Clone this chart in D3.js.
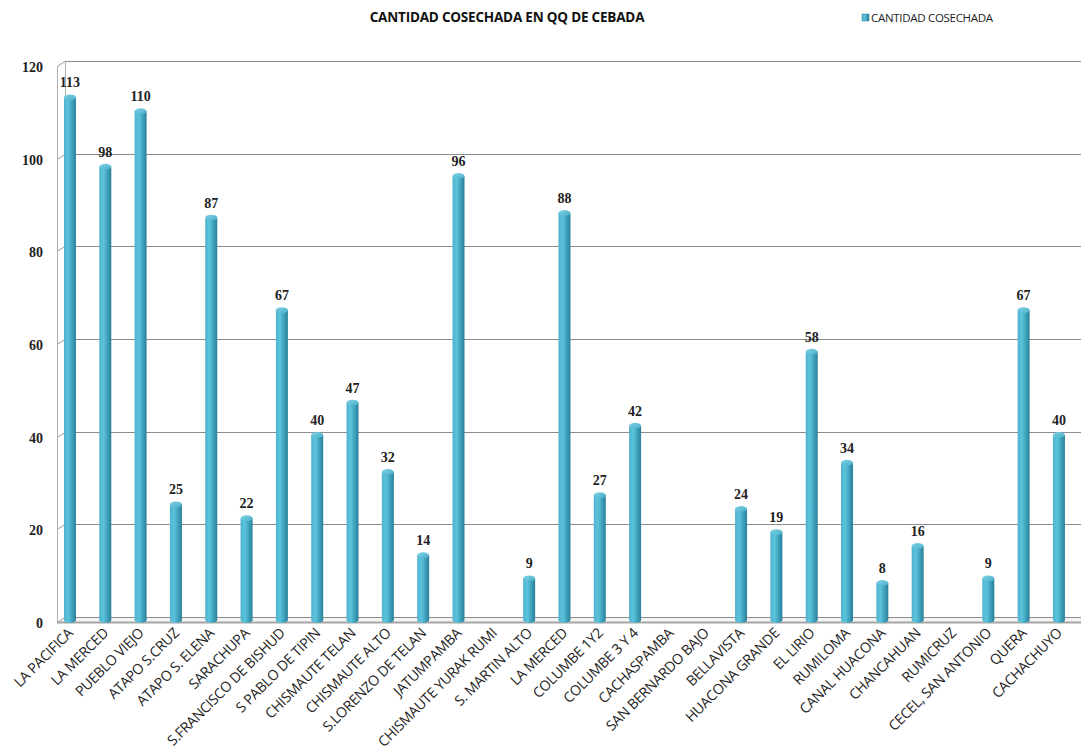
<!DOCTYPE html>
<html><head><meta charset="utf-8">
<script src="https://cdn.jsdelivr.net/npm/d3@7"></script>
<style>body{margin:0;background:#fff}</style>
</head><body><svg id="c" width="1081" height="752"></svg>
<script>
const categories = ["LA PACIFICA","LA MERCED","PUEBLO VIEJO","ATAPO S.CRUZ","ATAPO S. ELENA","SARACHUPA","S.FRANCISCO DE BISHUD","S PABLO DE TIPIN","CHISMAUTE TELAN","CHISMAUTE ALTO","S.LORENZO DE TELAN","JATUMPAMBA","CHISMAUTE YURAK RUMI","S. MARTIN ALTO","LA MERCED ","COLUMBE 1Y2","COLUMBE 3 Y 4","CACHASPAMBA","SAN BERNARDO BAJO","BELLAVISTA","HUACONA GRANDE","EL LIRIO","RUMILOMA","CANAL HUACONA","CHANCAHUAN","RUMICRUZ","CECEL, SAN ANTONIO","QUERA","CACHACHUYO"];
const values = [113,98,110,25,87,22,67,40,47,32,14,96,0,9,88,27,42,0,0,24,19,58,34,8,16,0,9,67,40];
const yTicks = [0,20,40,60,80,100,120];
const title = "CANTIDAD COSECHADA EN QQ DE CEBADA";
const seriesName = "CANTIDAD COSECHADA";

const svg = d3.select("#c");
const W = 1081;
const dx = 8, dy = 5; // depth offset
const backLeft = 65, frontLeft = backLeft - dx;
const y = d3.scaleLinear().domain([0,120]).range([617,61]);
const yBar = d3.scaleLinear().domain([0,120]).range([620,65]);
const x = d3.scaleBand().domain(d3.range(categories.length)).range([52.3,1076.6]).paddingInner(0.66).paddingOuter(0.33);

const defs = svg.append("defs");
const g1 = defs.append("linearGradient").attr("id","cyl").attr("x1","0").attr("x2","1").attr("y1","0").attr("y2","0");
[["0%","#4fb3cc"],["35%","#5cc3dc"],["60%","#46aac4"],["100%","#2a7f98"]].forEach(s=>g1.append("stop").attr("offset",s[0]).attr("stop-color",s[1]));
const g2 = defs.append("linearGradient").attr("id","topc").attr("x1","0").attr("x2","1").attr("y1","0").attr("y2","1");
[["0%","#7fd3e6"],["100%","#4aaec8"]].forEach(s=>g2.append("stop").attr("offset",s[0]).attr("stop-color",s[1]));

// floor
svg.append("path").attr("d",`M${frontLeft},${y(0)+dy} L${backLeft},${y(0)} L${W},${y(0)} L${W},${y(0)+dy} Z`)
  .attr("fill","#f4f4f4").attr("stroke","none");
// grid lines
yTicks.forEach(t=>{
  const yy = Math.round(y(t))+0.5;
  svg.append("line").attr("x1",backLeft).attr("x2",W).attr("y1",yy).attr("y2",yy).attr("stroke","#8c8c8c").attr("stroke-width",1);
  svg.append("line").attr("x1",frontLeft).attr("x2",backLeft).attr("y1",yy+dy).attr("y2",yy).attr("stroke","#9a9a9a").attr("stroke-width",1);
});
// walls
svg.append("line").attr("x1",backLeft+0.5).attr("x2",backLeft+0.5).attr("y1",y(120)).attr("y2",y(0)).attr("stroke","#b0b0b0");
svg.append("line").attr("x1",frontLeft+0.5).attr("x2",frontLeft+0.5).attr("y1",y(120)+dy).attr("y2",y(0)+dy).attr("stroke","#b0b0b0");
svg.append("line").attr("x1",frontLeft).attr("x2",W).attr("y1",y(0)+dy+0.5).attr("y2",y(0)+dy+0.5).attr("stroke","#a6a6a6").attr("stroke-width",2);

// y labels
yTicks.forEach(t=>{
  svg.append("text").attr("x",43).attr("y",y(t)+dy+6).attr("text-anchor","end")
    .attr("font-family","Liberation Serif").attr("font-weight","bold").attr("font-size",14).attr("fill","#222").text(t);
});

// bars
const bw = 12, ry = 3;
categories.forEach((c,i)=>{
  const v = values[i];
  if(!v) return;
  const cx = x(i) + x.bandwidth()/2;
  const top = yBar(v), bot = yBar(0);
  svg.append("path").attr("d",`M${cx-bw/2},${top} L${cx-bw/2},${bot} A${bw/2},${ry} 0 0 0 ${cx+bw/2},${bot} L${cx+bw/2},${top} Z`)
    .attr("fill","url(#cyl)");
  svg.append("ellipse").attr("cx",cx).attr("cy",top).attr("rx",bw/2).attr("ry",ry).attr("fill","url(#topc)");
  svg.append("text").attr("x",cx).attr("y",top-10).attr("text-anchor","middle")
    .attr("font-family","Liberation Serif").attr("font-weight","bold").attr("font-size",14).attr("fill","#222").text(v);
});

// x labels
categories.forEach((c,i)=>{
  const cx = x(i) + x.bandwidth()/2 + 4;
  svg.append("text").attr("transform",`translate(${cx},${634}) rotate(-45)`).attr("text-anchor","end")
    .attr("font-family","Open Sans").attr("font-size",14.2).attr("fill","#222").attr("letter-spacing","-0.3")
    .text(c.trim());
});

// title & legend
svg.append("text").attr("x",507).attr("y",22).attr("text-anchor","middle").attr("font-family","Open Sans")
  .attr("font-weight","bold").attr("font-size",13.5).attr("fill","#111").attr("letter-spacing","-0.2").text(title);
svg.append("rect").attr("x",862).attr("y",14).attr("width",7).attr("height",7).attr("fill","url(#cyl)").attr("stroke","#2a7f98").attr("stroke-width",0.5);
svg.append("text").attr("x",871).attr("y",22).attr("font-family","Open Sans").attr("font-size",11.5).attr("fill","#222").attr("letter-spacing","-0.3").text(seriesName);
</script></body></html>
